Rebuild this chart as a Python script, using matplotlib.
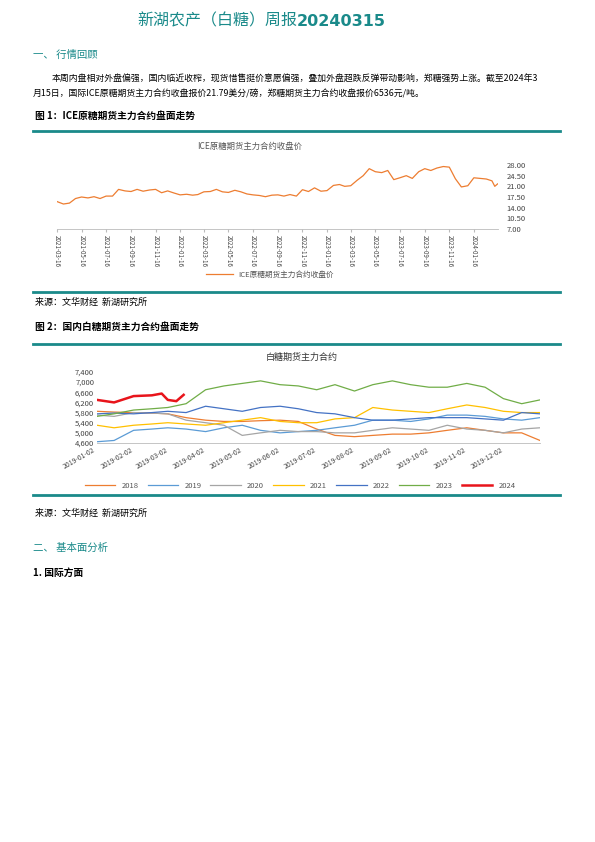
import matplotlib
matplotlib.use("Agg")
import matplotlib.pyplot as plt
import matplotlib.dates as mdates
import pandas as pd
import numpy as np

plt.rcParams['font.family'] = ['Noto Sans CJK SC', 'DejaVu Sans']

# ---------- data ----------
ice_dates = ["2021-03-16","2021-04-01","2021-04-16","2021-05-01","2021-05-16","2021-06-01","2021-06-16","2021-07-01","2021-07-16","2021-08-01","2021-08-16","2021-09-01","2021-09-16","2021-10-01","2021-10-16","2021-11-01","2021-11-16","2021-12-01","2021-12-16",
             "2022-01-01","2022-01-16","2022-02-01","2022-02-16","2022-03-01","2022-03-16","2022-04-01","2022-04-16","2022-05-01","2022-05-16","2022-06-01","2022-06-16","2022-07-01","2022-07-16","2022-08-01","2022-08-16","2022-09-01","2022-09-16","2022-10-01","2022-10-16","2022-11-01","2022-11-16","2022-12-01","2022-12-16",
             "2023-01-01","2023-01-16","2023-02-01","2023-02-16","2023-03-01","2023-03-16","2023-04-01","2023-04-16","2023-05-01","2023-05-16","2023-06-01","2023-06-16","2023-07-01","2023-07-16","2023-08-01","2023-08-16","2023-09-01","2023-09-16","2023-10-01","2023-10-16","2023-11-01","2023-11-16","2023-12-01","2023-12-16",
             "2024-01-01","2024-01-16","2024-02-01","2024-02-16","2024-03-01","2024-03-08","2024-03-15"]
ice_values = [16.0,15.2,15.5,17.0,17.5,17.2,17.6,17.0,17.8,17.8,20.0,19.5,19.3,20.0,19.4,19.8,20.0,18.9,19.5,
              18.8,18.2,18.4,18.1,18.3,19.2,19.3,20.0,19.2,19.0,19.7,19.2,18.5,18.2,18.0,17.6,18.1,18.2,17.8,18.3,17.8,19.9,19.3,20.5,
              19.4,19.6,21.3,21.6,21.0,21.2,23.0,24.5,26.8,25.8,25.5,26.2,23.2,23.8,24.5,23.6,25.8,26.8,26.2,27.0,27.5,27.3,23.5,20.8,
              21.2,23.8,23.6,23.4,22.8,21.0,21.8]
ice_ticklabels = ["2021-03-16","2021-05-16","2021-07-16","2021-09-16","2021-11-16","2022-01-16","2022-03-16","2022-05-16","2022-07-16",
                  "2022-09-16","2022-11-16","2023-01-16","2023-03-16","2023-05-16","2023-07-16","2023-09-16","2023-11-16","2024-01-16"]
ice_yticks = [7.0,10.5,14.0,17.5,21.0,24.5,28.0]

sugar_dates = ["2019-01-02","2019-01-16","2019-02-01","2019-02-16","2019-03-01","2019-03-16","2019-04-01","2019-04-16","2019-05-01","2019-05-16",
               "2019-06-01","2019-06-16","2019-07-01","2019-07-16","2019-08-01","2019-08-16","2019-09-01","2019-09-16","2019-10-01","2019-10-16",
               "2019-11-01","2019-11-16","2019-12-01","2019-12-16","2019-12-31"]
s2018 = [5850,5820,5800,5780,5750,5600,5500,5450,5450,5480,5500,5450,5150,4900,4850,4900,4950,4950,5000,5100,5200,5100,5000,5000,4700]
s2019 = [4650,4700,5100,5150,5200,5150,5050,5200,5300,5100,5000,5050,5100,5200,5300,5500,5500,5450,5550,5700,5700,5650,5550,5500,5600]
s2020 = [5700,5650,5800,5780,5750,5500,5400,5300,4900,5000,5100,5050,5050,5000,5000,5100,5200,5150,5100,5300,5150,5100,5000,5150,5200]
s2021 = [5300,5200,5300,5350,5400,5350,5300,5400,5500,5600,5450,5400,5400,5550,5600,6000,5900,5850,5800,5950,6100,6000,5850,5800,5800]
s2022 = [5750,5780,5750,5800,5850,5800,6050,5950,5850,6000,6050,5950,5800,5750,5600,5500,5500,5550,5600,5600,5600,5550,5500,5800,5750]
s2023 = [5650,5750,5900,5950,6000,6150,6700,6850,6950,7050,6900,6850,6700,6900,6650,6900,7050,6900,6800,6800,6950,6800,6350,6150,6300]
s2024_dates = ["2019-01-02","2019-01-16","2019-02-01","2019-02-16","2019-02-24","2019-03-01","2019-03-08","2019-03-14"]
s2024 = [6300,6200,6450,6480,6550,6300,6250,6500]
sugar_years = ["2018","2019","2020","2021","2022","2023"]
sugar_colors = ["#ED7D31","#5B9BD5","#A5A5A5","#FFC000","#4472C4","#70AD47"]
sugar_yticks = [4600,5000,5400,5800,6200,6600,7000,7400]
sugar_ticklabels = ["2019-01-02","2019-02-02","2019-03-02","2019-04-02","2019-05-02","2019-06-02","2019-07-02","2019-08-02",
                    "2019-09-02","2019-10-02","2019-11-02","2019-12-02"]

# ---------- page ----------
W, H = 595, 842
fig = plt.figure(figsize=(W/100, H/100), dpi=100)
teal = "#1A8A8A"

def T(x, y, s, **kw):
    fig.text(x/W, 1-y/H, s, va="center", **kw)

def hline(y, lw=2.0):
    fig.add_artist(plt.Line2D([33/W, 560/W], [1-y/H, 1-y/H], color=teal, lw=lw))

def rect_axes(l, t, r, b):
    return fig.add_axes([l/W, 1-b/H, (r-l)/W, (b-t)/H])

T(297, 21, "新湖农产（白糖）周报", ha="right", color=teal, fontsize=11.5)
T(297, 21, "20240315", ha="left", color=teal, fontsize=11.5, fontweight="bold", family="DejaVu Sans")
T(33, 55, "一、 行情回顾", color=teal, fontsize=7.5)
T(52, 79, "本周内盘相对外盘偏强，国内临近收榨，现货惜售挺价意愿偏强，叠加外盘超跌反弹带动影响，郑糖强势上涨。截至2024年3", fontsize=6.4)
T(33, 94, "月15日，国际ICE原糖期货主力合约收盘报价21.79美分/磅，郑糖期货主力合约收盘报价6536元/吨。", fontsize=6.4)
T(35, 116, "图 1：ICE原糖期货主力合约盘面走势", fontsize=7, fontweight="bold")
hline(131)
hline(292)
T(35, 302, "来源：文华财经  新湖研究所", fontsize=6.5)
T(35, 327, "图 2：国内白糖期货主力合约盘面走势", fontsize=7, fontweight="bold")
hline(344)
hline(495)
T(35, 513, "来源：文华财经  新湖研究所", fontsize=6.5)
T(33, 548, "二、 基本面分析", color=teal, fontsize=7.5)
T(33, 573, "1. 国际方面", fontsize=7, fontweight="bold")

# ---------- chart 1 ----------
ax1 = rect_axes(57, 165, 498, 229)
d1 = pd.to_datetime(ice_dates)
ax1.plot(d1, ice_values, color="#ED7D31", lw=0.9, label="ICE原糖期货主力合约收盘价")
ax1.set_ylim(7, 28)
ax1.set_xlim(pd.Timestamp("2021-03-16"), pd.Timestamp("2024-03-16"))
ax1.yaxis.tick_right()
ax1.set_yticks(ice_yticks)
ax1.set_yticklabels([f"{v:.2f}" for v in ice_yticks], fontsize=5.5, color="#444444")
ax1.set_xticks(pd.to_datetime(ice_ticklabels))
ax1.set_xticklabels(ice_ticklabels, rotation=-90, fontsize=4.5, color="#444444")
ax1.tick_params(axis="y", length=0, pad=6)
ax1.tick_params(axis="x", length=2, color="#BBBBBB", pad=2)
for s in ["top", "right", "left"]:
    ax1.spines[s].set_visible(False)
ax1.spines["bottom"].set_color("#BBBBBB")
ax1.spines["bottom"].set_linewidth(0.6)
T(250, 146, "ICE原糖期货主力合约收盘价", ha="center", fontsize=6, color="#555555")
h, l = ax1.get_legend_handles_labels()
fig.legend(h, l, loc="center", bbox_to_anchor=(270/W, 1-275/H), frameon=False, fontsize=5.5,
           handlelength=3.5, labelcolor="#555555")

# ---------- chart 2 ----------
ax2 = rect_axes(97, 372, 540, 443)
d2 = pd.to_datetime(sugar_dates)
for yr, vals, c in zip(sugar_years, [s2018, s2019, s2020, s2021, s2022, s2023], sugar_colors):
    ax2.plot(d2, vals, color=c, lw=0.9, label=yr)
ax2.plot(pd.to_datetime(s2024_dates), s2024, color="#E8141B", lw=1.8, label="2024")
ax2.set_ylim(4600, 7400)
ax2.set_xlim(pd.Timestamp("2019-01-02"), pd.Timestamp("2019-12-31"))
ax2.set_yticks(sugar_yticks)
ax2.set_yticklabels([f"{v:,}" for v in sugar_yticks], fontsize=5.5, color="#444444")
ax2.set_xticks(pd.to_datetime(sugar_ticklabels))
ax2.set_xticklabels(sugar_ticklabels, rotation=30, ha="right", fontsize=5, color="#444444")
ax2.tick_params(length=0, pad=2)
for s in ["top", "right", "left"]:
    ax2.spines[s].set_visible(False)
ax2.spines["bottom"].set_color("#BBBBBB")
ax2.spines["bottom"].set_linewidth(0.6)
T(302, 357, "白糖期货主力合约", ha="center", fontsize=6.5, color="#333333")
h, l = ax2.get_legend_handles_labels()
fig.legend(h, l, loc="center", bbox_to_anchor=(300/W, 1-486/H), ncol=7, frameon=False, fontsize=5.5,
           handlelength=4, columnspacing=1.2, labelcolor="#555555")

fig.savefig("out.png", dpi=100, facecolor="white")
